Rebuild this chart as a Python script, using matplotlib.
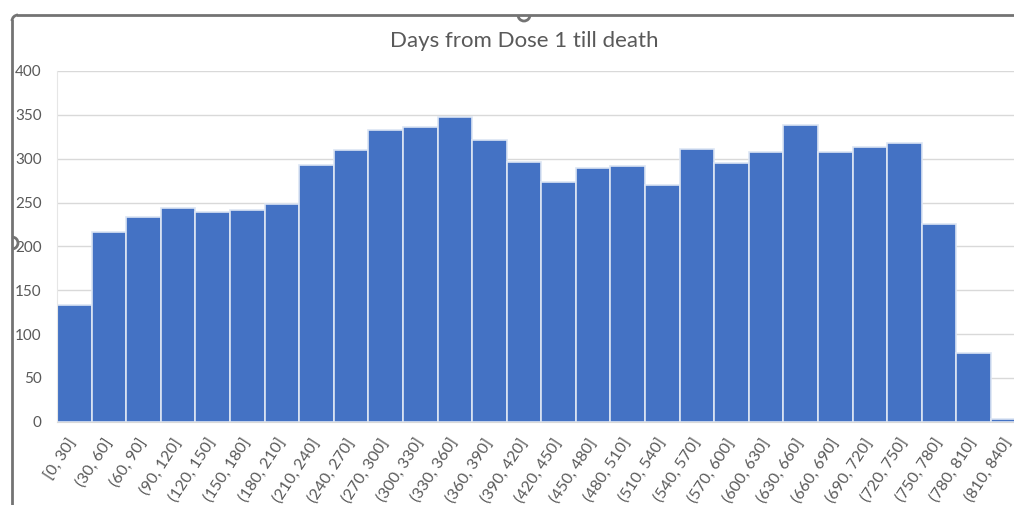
import matplotlib.pyplot as plt
import numpy as np
from matplotlib.patches import Arc
from matplotlib.lines import Line2D
from matplotlib.transforms import IdentityTransform

plt.rcParams['font.family'] = ['Lato', 'DejaVu Sans']

# histogram of days from dose 1 till death, 30-day bins
bin_edges = list(range(0, 841, 30))
counts = [133, 216, 233, 244, 239, 242, 248, 293, 310, 333,
          336, 347, 321, 296, 273, 289, 292, 270, 311, 295,
          308, 338, 308, 313, 318, 226, 78, 3]
bin_labels = ['[0, 30]'] + [f'({a}, {b}]' for a, b in zip(bin_edges[1:-1], bin_edges[2:])]

W, H = 1014, 505
fig = plt.figure(figsize=(W / 100, H / 100), dpi=100)
fig.patch.set_facecolor('white')

# plot area runs a little past the right edge
ax = fig.add_axes([57 / W, 83.3 / H, 968.6 / W, 350.7 / H])
centers = np.array(bin_edges[:-1]) + 15
ax.bar(centers, counts, width=30, color='#4472C4', edgecolor='#dce5f3', linewidth=1.2, zorder=2)

ax.set_xlim(0, 840)
ax.set_ylim(0, 400)
ax.set_yticks(range(0, 401, 50))
ax.set_xticks(centers)
ax.set_xticklabels(bin_labels, rotation=57, ha='right', va='center', rotation_mode='anchor')
ax.tick_params(axis='x', length=0, pad=13, labelsize=11.5, labelcolor='#595959')
ax.tick_params(axis='y', length=0, pad=11, labelsize=11, labelcolor='#595959')
ax.grid(axis='y', color='#d9d9d9', linewidth=1, zorder=0)
for side in ['top', 'right']:
    ax.spines[side].set_visible(False)
ax.spines['left'].set_color('#e6e6e6')
ax.spines['bottom'].set_color('#d9d9d9')

fig.text(524 / W, (H - 47) / H, 'Days from Dose 1 till death', ha='center', va='baseline',
         fontsize=16, color='#595959')

# selection frame and handles around the chart object
ident = IdentityTransform()
frame_kw = dict(color='#737373', linewidth=2, transform=ident)
fig.add_artist(Line2D([18, W], [H - 15, H - 15], **frame_kw))
fig.add_artist(Line2D([12, 12], [0, H - 21], **frame_kw))
fig.add_artist(Arc((18, H - 21), 12, 12, theta1=90, theta2=180, **frame_kw))
fig.add_artist(Arc((524, H - 15), 12, 12, theta1=180, theta2=360, **frame_kw))
fig.add_artist(Arc((12, 262), 12, 12, theta1=-90, theta2=90, **frame_kw))

fig.savefig('out.png', dpi=100)
